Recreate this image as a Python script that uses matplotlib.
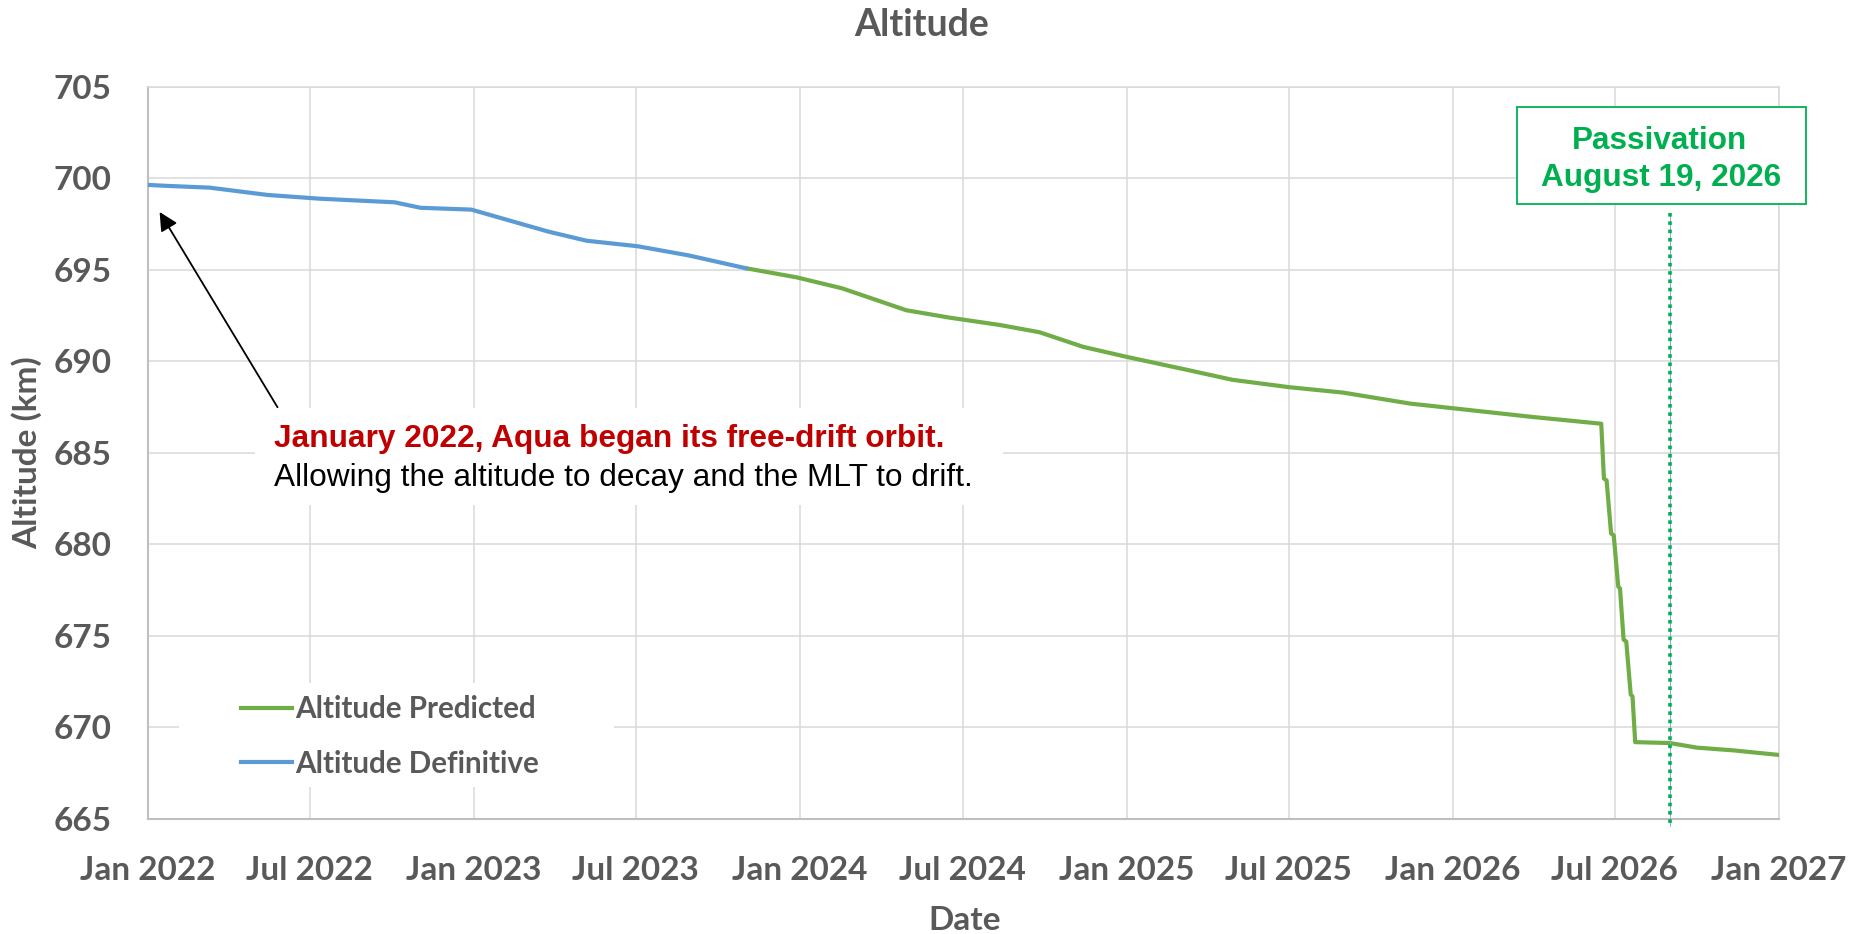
import pandas as pd
import matplotlib
matplotlib.use('Agg')
import matplotlib.pyplot as plt
import matplotlib.dates as mdates
from matplotlib.patches import Rectangle

# definitive altitude (blue)
def_dates = ['2022-01-01', '2022-01-21', '2022-03-11', '2022-05-15', '2022-07-11',
             '2022-08-22', '2022-10-04', '2022-11-02', '2022-12-29', '2023-02-10',
             '2023-03-25', '2023-05-07', '2023-07-03', '2023-08-29', '2023-11-01']
def_alt = [699.65, 699.6, 699.5, 699.1, 698.9,
           698.8, 698.7, 698.4, 698.3, 697.7,
           697.1, 696.6, 696.3, 695.8, 695.1]

# predicted altitude (green)
pred_dates = ['2023-11-01', '2023-12-28', '2024-02-17', '2024-04-29', '2024-06-16',
              '2024-08-11', '2024-09-25', '2024-11-13', '2025-01-01', '2025-03-04',
              '2025-04-29', '2025-07-01', '2025-08-31', '2025-11-14', '2025-12-31',
              '2026-03-31', '2026-06-16', '2026-06-19', '2026-06-22', '2026-06-27',
              '2026-06-30', '2026-07-05', '2026-07-07', '2026-07-11', '2026-07-14',
              '2026-07-19', '2026-07-21', '2026-07-24', '2026-09-01', '2026-10-01',
              '2026-11-11', '2027-01-01']
pred_alt = [695.1, 694.6, 694.0, 692.8, 692.4,
            692.0, 691.6, 690.8, 690.25, 689.6,
            689.0, 688.6, 688.3, 687.7, 687.45,
            686.97, 686.6, 683.6, 683.5, 680.6,
            680.5, 677.7, 677.6, 674.8, 674.7,
            671.8, 671.7, 669.2, 669.15, 668.9,
            668.75, 668.5]

tick_dates = ['2022-01-01', '2022-07-01', '2023-01-01', '2023-07-01', '2024-01-01',
              '2024-07-01', '2025-01-01', '2025-07-01', '2026-01-01', '2026-07-01',
              '2027-01-01']
y_ticks = [665, 670, 675, 680, 685, 690, 695, 700, 705]
passivation_x = '2026-09-01'   # where the marker sits on the chart

def_dates = pd.to_datetime(def_dates)
pred_dates = pd.to_datetime(pred_dates)
tick_dates = pd.to_datetime(tick_dates)
pas = pd.to_datetime(passivation_x)

gray = '#595959'
green = '#70AD47'
blue = '#5B9BD5'
pgreen = '#00B050'

fig = plt.figure(figsize=(18.62, 9.34), dpi=100)
ax = fig.add_axes([148/1862, 1-819/934, 1631/1862, 732/934])

ax.plot(pred_dates, pred_alt, color=green, lw=3, label='Altitude Predicted', zorder=3)
ax.plot(def_dates, def_alt, color=blue, lw=3, label='Altitude Definitive', zorder=3)

ax.set_xlim(tick_dates[0], tick_dates[-1])
ax.set_ylim(665, 705)
ax.set_xticks(tick_dates)
ax.xaxis.set_major_formatter(mdates.DateFormatter('%b %Y'))
ax.set_yticks(y_ticks)
ax.grid(True, color='#D9D9D9', lw=1.1, zorder=0)
ax.set_axisbelow(True)
ax.tick_params(length=0, labelcolor=gray)
ax.tick_params(axis='y', pad=26)
ax.tick_params(axis='x', pad=27)
for lab in ax.get_xticklabels() + ax.get_yticklabels():
    lab.set_family('Lato')
    lab.set_weight('bold')
    lab.set_fontsize(24)
for s in ['left', 'bottom']:
    ax.spines[s].set_color('#BFBFBF')
    ax.spines[s].set_linewidth(1.5)
for s in ['top', 'right']:
    ax.spines[s].set_color('#D9D9D9')
    ax.spines[s].set_linewidth(1.1)

# passivation marker
ax.plot([pas, pas], [698.1, 664.6], color='#8FAADC', lw=0.7, clip_on=False, zorder=4)
ax.plot([pas, pas], [698.1, 664.6], color=pgreen, lw=2.6, ls=(0, (1, 1.3)),
        clip_on=False, zorder=5)

# legend with white background
ax.add_patch(Rectangle((0.019, 0.0437), 0.2667, 0.142, transform=ax.transAxes,
                       facecolor='white', edgecolor='none', zorder=2))
ax.legend(loc='center left', bbox_to_anchor=(0.057, 0.113), borderaxespad=0,
          borderpad=0, frameon=False, handlelength=1.72, handletextpad=0.1,
          labelspacing=0.9, labelcolor=gray,
          prop=dict(family='Lato', weight='bold', size=21.3))

# annotation
ax.add_patch(Rectangle((0.0656, 0.429), 0.4586, 0.1325, transform=ax.transAxes,
                       facecolor='white', edgecolor='none', zorder=2))
ax.text(0.0773, 0.5082, 'January 2022, Aqua began its free-drift orbit.',
        transform=ax.transAxes, color='#C00000', family='Liberation Sans',
        weight='bold', fontsize=22.8, va='baseline', zorder=6)
ax.text(0.0773, 0.4549, 'Allowing the altitude to decay and the MLT to drift.',
        transform=ax.transAxes, color='black', family='Liberation Sans',
        fontsize=22.8, va='baseline', zorder=6)
ax.annotate('', xy=(def_dates[0] + pd.Timedelta(days=13), 698.17),
            xytext=(def_dates[0] + pd.Timedelta(days=145), 687.5),
            arrowprops=dict(arrowstyle='-|>', color='black', lw=1.3,
                            mutation_scale=28, shrinkA=0, shrinkB=0), zorder=6)

# passivation box (figure coords)
fig.patches.append(Rectangle((1517/1862, 1-204/934), 289/1862, 97/934,
                             transform=fig.transFigure, facecolor='white',
                             edgecolor=pgreen, lw=1.3, zorder=5))
fig.text(1660/1862, 1-149/934, 'Passivation', ha='center', va='baseline',
         color=pgreen, family='Liberation Sans', weight='bold', fontsize=22.7, zorder=6)
fig.text(1661/1862, 1-186/934, 'August 19, 2026', ha='center', va='baseline',
         color=pgreen, family='Liberation Sans', weight='bold', fontsize=22.7, zorder=6)

fig.text(922/1862, 1-25/934, 'Altitude', ha='center', va='center', color=gray,
         family='Lato', weight='bold', fontsize=27)
fig.text(965/1862, 1-921/934, 'Date', ha='center', va='center', color=gray,
         family='Lato', weight='bold', fontsize=24)
fig.text(27/1862, 1-453/934, 'Altitude (km)', ha='center', va='center', color=gray,
         family='Lato', weight='bold', fontsize=24, rotation=90)

fig.savefig('out.png', dpi=100)
